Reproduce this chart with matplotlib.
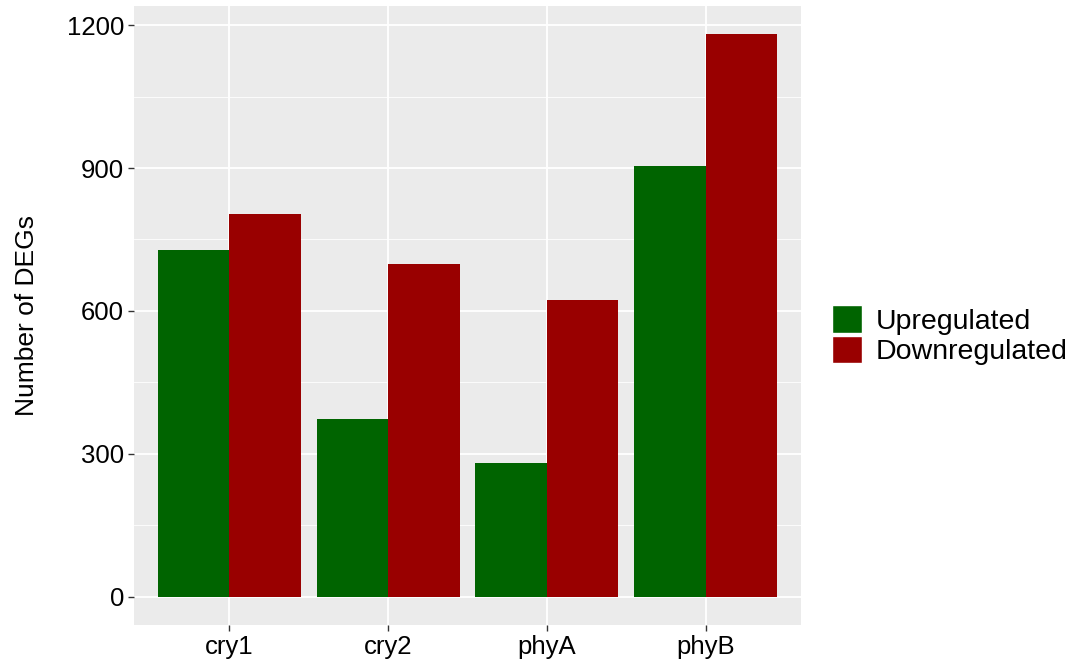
import matplotlib
matplotlib.use("Agg")
import matplotlib.pyplot as plt
import numpy as np
from matplotlib.patches import Patch

categories = ["cry1", "cry2", "phyA", "phyB"]
upregulated = [727, 374, 282, 904]
downregulated = [803, 698, 622, 1181]
series_names = ["Upregulated", "Downregulated"]
colors = ["#006400", "#990000"]
yticks = [0, 300, 600, 900, 1200]

plt.rcParams['font.family'] = ['Liberation Sans', 'DejaVu Sans']

fig = plt.figure(figsize=(10.83, 6.64), dpi=100)
ax = fig.add_axes([0.1237, 0.0587, 0.7396 - 0.1237, 0.991 - 0.0587])
ax.set_facecolor("#EBEBEB")

x = np.arange(1, len(categories) + 1)
w = 0.45
ax.bar(x - w / 2, upregulated, width=w, color=colors[0], zorder=3)
ax.bar(x + w / 2, downregulated, width=w, color=colors[1], zorder=3)

ymax = max(max(upregulated), max(downregulated))
ax.set_ylim(-0.05 * ymax, ymax * 1.05)
ax.set_xlim(0.4, 4.6)

ax.set_yticks(yticks)
ax.set_yticks([150, 450, 750, 1050], minor=True)
ax.set_xticks(x)
ax.set_xticklabels(categories)
ax.grid(which="major", color="white", linewidth=1.3, zorder=0)
ax.grid(which="minor", axis="y", color="white", linewidth=0.6, zorder=0)
ax.set_axisbelow(True)
for s in ax.spines.values():
    s.set_visible(False)
ax.tick_params(axis="both", which="major", length=4, color="#333333", width=1,
               labelsize=18.5, labelcolor="black", pad=3)
ax.tick_params(which="minor", length=0)
ax.set_ylabel("Number of DEGs", fontsize=19, labelpad=20)

handles = [Patch(facecolor=colors[0], edgecolor="white"), Patch(facecolor=colors[1], edgecolor="white")]
fig.legend(handles, series_names, loc="center left", bbox_to_anchor=(0.7575, 0.495),
           frameon=False, fontsize=20.5, handlelength=1.05, handleheight=1.1,
           handletextpad=0.5, labelspacing=0.05, borderaxespad=0)

fig.savefig("out.png", dpi=100)
